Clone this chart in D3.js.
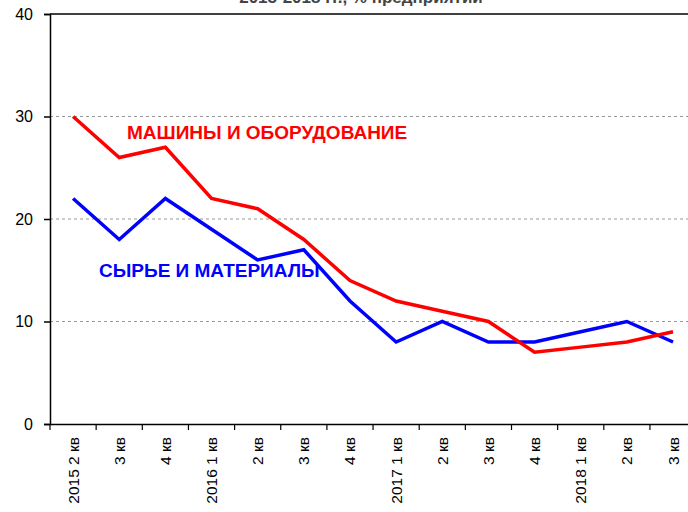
<!DOCTYPE html>
<html>
<head>
<meta charset="utf-8">
<script src="https://cdn.jsdelivr.net/npm/d3@7"></script>
<style>
  body { margin: 0; background: #fff; }
  text { font-family: Arial, "Liberation Sans", sans-serif; }
</style>
</head>
<body>
<script>
const quarters = ["2015 2 кв", "3 кв", "4 кв", "2016 1 кв", "2 кв", "3 кв", "4 кв",
  "2017 1 кв", "2 кв", "3 кв", "4 кв", "2018 1 кв", "2 кв", "3 кв"];
const machines = [30, 26, 27, 22, 21, 18, 14, 12, 11, 10, 7, 7.5, 8, 9];
const materials = [22, 18, 22, 19, 16, 17, 12, 8, 10, 8, 8, 9, 10, 8];
const yTicks = [0, 10, 20, 30, 40];

const width = 688, height = 512;
const marginLeft = 50, plotTop = 14, plotBottom = 424;
const step = 46.15;

const svg = d3.select("body").append("svg")
  .attr("width", width)
  .attr("height", height);

// title, cut off at the top edge like in the source image
svg.append("text")
  .attr("x", 361).attr("y", 3)
  .attr("text-anchor", "middle")
  .attr("font-size", 17).attr("font-weight", "bold")
  .attr("fill", "#444")
  .text("2015-2018 гг., % предприятий");

const x = d3.scaleBand()
  .domain(d3.range(quarters.length))
  .range([marginLeft, marginLeft + step * quarters.length]);

const y = d3.scaleLinear().domain([0, 40]).range([plotBottom, plotTop]);

// grid
svg.selectAll(".grid")
  .data([10, 20, 30])
  .enter().append("line")
  .attr("x1", marginLeft).attr("x2", width)
  .attr("y1", d => y(d)).attr("y2", d => y(d))
  .attr("stroke", "#999")
  .attr("stroke-dasharray", "3,3");

// top frame line
svg.append("line")
  .attr("x1", marginLeft).attr("x2", width)
  .attr("y1", y(40)).attr("y2", y(40))
  .attr("stroke", "#000").attr("stroke-width", 1.5);

// y axis
const yAxis = svg.append("g")
  .attr("transform", `translate(${marginLeft},0)`)
  .call(d3.axisLeft(y).tickValues(yTicks).tickSize(6).tickPadding(11));
yAxis.select(".domain").attr("stroke-width", 1.5);
yAxis.selectAll(".tick line").attr("stroke-width", 1.5);
yAxis.selectAll("text").attr("font-size", 16).attr("fill", "#000")
  .attr("font-family", "Arial, 'Liberation Sans', sans-serif");

// x axis
const xAxis = svg.append("g")
  .attr("transform", `translate(0,${plotBottom})`)
  .call(d3.axisBottom(x).tickSize(0).tickFormat(""));
xAxis.select(".domain").attr("stroke-width", 1.5);
xAxis.selectAll(".xt")
  .data(d3.range(quarters.length + 1))
  .enter().append("line")
  .attr("class", "xt")
  .attr("x1", i => marginLeft + i * step).attr("x2", i => marginLeft + i * step)
  .attr("y1", 0).attr("y2", 6)
  .attr("stroke", "#000").attr("stroke-width", 1.2);

svg.selectAll(".xl")
  .data(quarters)
  .enter().append("text")
  .attr("class", "xl")
  .attr("text-anchor", "end")
  .attr("font-size", 15.5)
  .attr("transform", (d, i) => `translate(${x(i) + x.bandwidth() / 2 + 5.5},437) rotate(-90)`)
  .text(d => d);

const line = d3.line()
  .x((d, i) => x(i) + x.bandwidth() / 2)
  .y(d => y(d));

svg.append("path")
  .datum(materials)
  .attr("fill", "none")
  .attr("stroke", "#0000ff")
  .attr("stroke-width", 3.5)
  .attr("d", line);

svg.append("path")
  .datum(machines)
  .attr("fill", "none")
  .attr("stroke", "#ff0000")
  .attr("stroke-width", 3.5)
  .attr("d", line);

svg.append("text")
  .attr("x", 127).attr("y", 139)
  .attr("font-size", 19).attr("font-weight", "bold")
  .attr("fill", "#ff0000")
  .text("МАШИНЫ И ОБОРУДОВАНИЕ");

svg.append("text")
  .attr("x", 99).attr("y", 277)
  .attr("font-size", 19).attr("font-weight", "bold")
  .attr("fill", "#0000ff")
  .text("СЫРЬЕ И МАТЕРИАЛЫ");
</script>
</body>
</html>
